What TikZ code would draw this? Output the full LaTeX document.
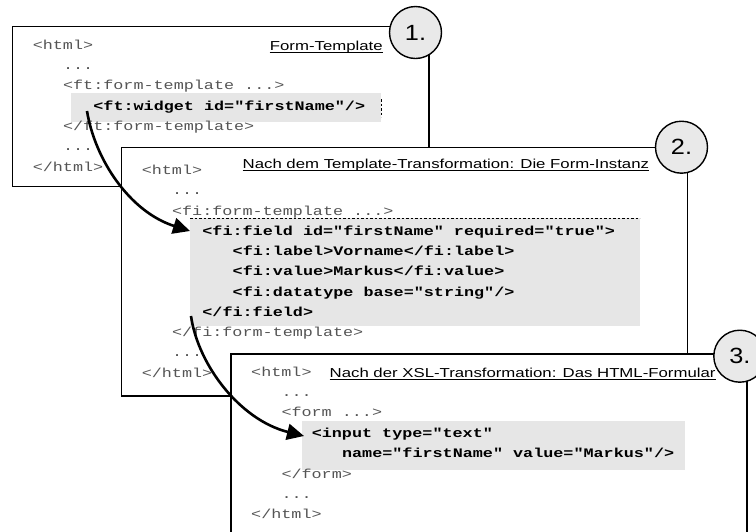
\documentclass[tikz,border=0pt]{standalone}
\usepackage{fontspec}
\setmainfont{Liberation Sans}[FakeStretch=1.29]
\newfontfamily\codefont{Liberation Mono}[FakeStretch=1.29,Ligatures=NoCommon]
\newfontfamily\numfont{Liberation Sans}[FakeStretch=1.15]
\usetikzlibrary{arrows.meta}
\definecolor{hlgray}{RGB}{230,230,230}
\definecolor{badgegray}{RGB}{233,233,233}
\definecolor{codegray}{RGB}{85,85,85}
\tikzset{
  frame/.style={draw=black, line width=1.4pt, fill=white},
  hl/.style={fill=hlgray},
  badge/.style={circle, draw=black, line width=1.4pt, fill=badgegray,
    minimum size=52pt, inner sep=0pt, font=\numfont\fontsize{22}{22}\selectfont},
  code/.style={anchor=base west, inner sep=0pt,
    font=\codefont\fontsize{13}{15}\selectfont, text=codegray},
  bcode/.style={anchor=base west, inner sep=0pt,
    font=\codefont\bfseries\fontsize{13}{15}\selectfont, text=black},
  heading/.style={anchor=base west, inner sep=0pt,
    font=\fontsize{13}{15}\selectfont},
  uline/.style={line width=0.9pt},
  dotline/.style={line width=0.8pt, dash pattern=on 2.5pt off 2pt},
  flow/.style={line width=2.6pt, -{Triangle[length=17pt,width=16pt]}},
}
\begin{document}
\begin{tikzpicture}[x=1pt,y=-1pt]
\useasboundingbox (0,0) rectangle (756,531);
\clip (0,0) rectangle (756,531);
\fill[white] (0,0) rectangle (756,531);

% ---- step 1: the form template ----
\draw[frame] (12.5,26.5) rectangle (429,186.5);
\fill[hl] (71,93) rectangle (381,122);
\draw[dotline] (381.5,99) -- (381.5,117);
\node[code]  (a0) at (32.6,49)    {<html>};
\node[code]  (a1) at (62.9,69.3)  {...};
\node[code]  (a2) at (62.9,89.7)  {<ft:form-template ...>};
\node[bcode] (a3) at (93.2,110)   {<ft:widget id="firstName"/>};
\node[code]  (a4) at (62.9,130.3) {</ft:form-template>};
\node[code]  (a5) at (62.9,150.7) {...};
\node[code]  (a6) at (32.6,171)   {</html>};
\node[heading] (t1) at (269.7,50.3) {Form-Template};
\draw[uline] ([yshift=-2pt]t1.base west) -- ([yshift=-2pt]t1.base east);
\node[badge] (n1) at (415.5,32.5) {1.};

% ---- step 2: the form instance ----
\draw[frame] (121.5,147.5) rectangle (687.5,396);
\fill[hl] (190,218) rectangle (640,326);
\draw[dotline] (190,218) -- (640,218);
\node[code]  (b0)  at (141.6,174.5) {<html>};
\node[code]  (b1)  at (171.9,194.8) {...};
\node[code]  (b2)  at (171.9,215)   {<fi:form-template ...>};
\node[bcode] (b3)  at (202.2,235.3) {<fi:field id="firstName" required="true">};
\node[bcode] (b4)  at (232.5,255.5) {<fi:label>Vorname</fi:label>};
\node[bcode] (b5)  at (232.5,275.8) {<fi:value>Markus</fi:value>};
\node[bcode] (b6)  at (232.5,296)   {<fi:datatype base="string"/>};
\node[bcode] (b7)  at (202.2,316.3) {</fi:field>};
\node[code]  (b8)  at (171.9,336.5) {</fi:form-template>};
\node[code]  (b9)  at (171.9,356.8) {...};
\node[code]  (b10) at (141.6,377)   {</html>};
\node[heading] (t2) at (242.5,168.7) {Nach dem Template-Transformation: Die Form-Instanz};
\draw[uline] ([yshift=-2pt]t2.base west) -- ([yshift=-2pt]t2.base east);
\node[badge] (n2) at (681.5,147.2) {2.};

% ---- step 3: the HTML form ----
\draw[frame] (231,354) rectangle (747,560);
\fill[hl] (302,421) rectangle (685,470);
\node[code]  (c0) at (251,376)     {<html>};
\node[code]  (c1) at (281.3,396.4) {...};
\node[code]  (c2) at (281.3,416.8) {<form ...>};
\node[bcode] (c3) at (311.6,437.2) {<input type="text"};
\node[bcode] (c4) at (341.9,457.6) {name="firstName" value="Markus"/>};
\node[code]  (c5) at (281.3,478)   {</form>};
\node[code]  (c6) at (281.3,498.4) {...};
\node[code]  (c7) at (251,518.8)   {</html>};
\node[heading] (t3) at (329.5,377.5) {Nach der XSL-Transformation: Das HTML-Formular};
\draw[uline] ([yshift=-2pt]t3.base west) -- ([yshift=-2pt]t3.base east);
\node[badge] (n3) at (739.8,356.2) {3.};

% ---- transformation arrows ----
\coordinate (s1) at (87,111);
\coordinate (e1) at (190,231);
\coordinate (s2) at (191,316);
\coordinate (e2) at (304,436);
\draw[flow] (s1) .. controls (95,160) and (130,212) .. (e1);
\draw[flow] (s2) .. controls (198,365) and (240,420) .. (e2);
\end{tikzpicture}
\end{document}
